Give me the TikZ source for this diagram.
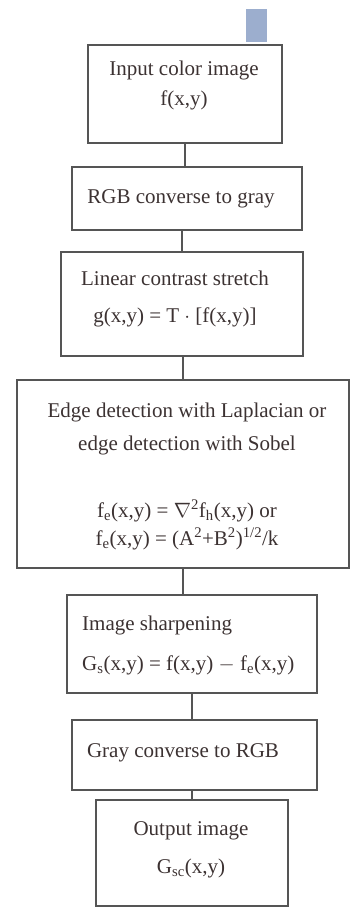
\documentclass[tikz,border=0pt]{standalone}
\usepackage{fontspec}
\setmainfont{Liberation Serif}
\usetikzlibrary{positioning}
\definecolor{ink}{RGB}{60,50,50}
\definecolor{framegray}{RGB}{85,85,85}
\definecolor{markblue}{RGB}{156,174,206}
\newcommand{\boxfont}{\fontsize{21}{31}\selectfont}

\begin{document}
\begin{tikzpicture}[x=1pt, y=1pt,
    blk/.style ={draw=framegray, line width=2.2pt, inner sep=0pt},
    txt/.style ={inner sep=0pt, anchor=base, align=center, text=ink,
                 font=\boxfont},
    link/.style={draw=framegray, line width=1.5pt},
]
\useasboundingbox (0,0) rectangle (350,-908);
% small marker square above the first box
\node[fill=markblue, inner sep=0pt, minimum width=21pt, minimum height=33pt]
   (mark) at (256.5,-25.5) {};
% boxes
\node[blk, minimum width=194pt, minimum height=98pt]  (inp)  at (185,-94)    {};
\node[blk, minimum width=230pt, minimum height=63pt]  (rgb)  at (187,-198.5) {};
\node[blk, minimum width=242pt, minimum height=104pt] (lin)  at (182,-304)   {};
\node[blk, minimum width=332pt, minimum height=188pt] (edg)  at (183,-474)   {};
\node[blk, minimum width=250pt, minimum height=98pt]  (shp)  at (192,-644)   {};
\node[blk, minimum width=245pt, minimum height=70pt]  (gry)  at (194.5,-755) {};
\node[blk, minimum width=192pt, minimum height=106pt] (outp) at (192,-853)   {};
% texts (base = last line)
\node[txt] (inptxt) at (184,-105) {Input color image\\[-1pt] f(x,y)};
\node[txt] (rgbtxt) at (181,-203) {RGB converse to gray};
\node[txt] (lintxt) at (175,-322)
   {Linear contrast stretch\\[6pt] g(x,y) = T $\cdot$ [f(x,y)]};
\node[txt] (edgtxt) at (187,-545)
   {Edge detection with Laplacian or\\[2pt] edge detection with Sobel\\[36pt]
    f\textsubscript{e}(x,y) = $\nabla$\textsuperscript{2}f\textsubscript{h}(x,y) or\\[-3pt]
    f\textsubscript{e}(x,y) = (A\textsuperscript{2}+B\textsuperscript{2})\textsuperscript{1/2}/k};
\node[txt, anchor=base west, align=left] (shptxt) at (82,-670)
   {Image sharpening\\[9pt]
    G\textsubscript{s}(x,y) = f(x,y) $-$ f\textsubscript{e}(x,y)};
\node[txt] (grytxt) at (183,-757) {Gray converse to RGB};
\node[txt] (outtxt) at (191,-873) {Output image\\[7pt] G\textsubscript{sc}(x,y)};
% connectors
\draw[link] (inp.south) -- (inp.south |- rgb.north);
\draw[link] (rgb.south -| lin.north) -- (lin.north);
\draw[link] (lin.south -| edg.north) -- (edg.north);
\draw[link] (edg.south) -- (edg.south |- shp.north);
\draw[link] (shp.south) -- (shp.south |- gry.north);
\draw[link] (gry.south -| outp.north) -- (outp.north);
\end{tikzpicture}
\end{document}
